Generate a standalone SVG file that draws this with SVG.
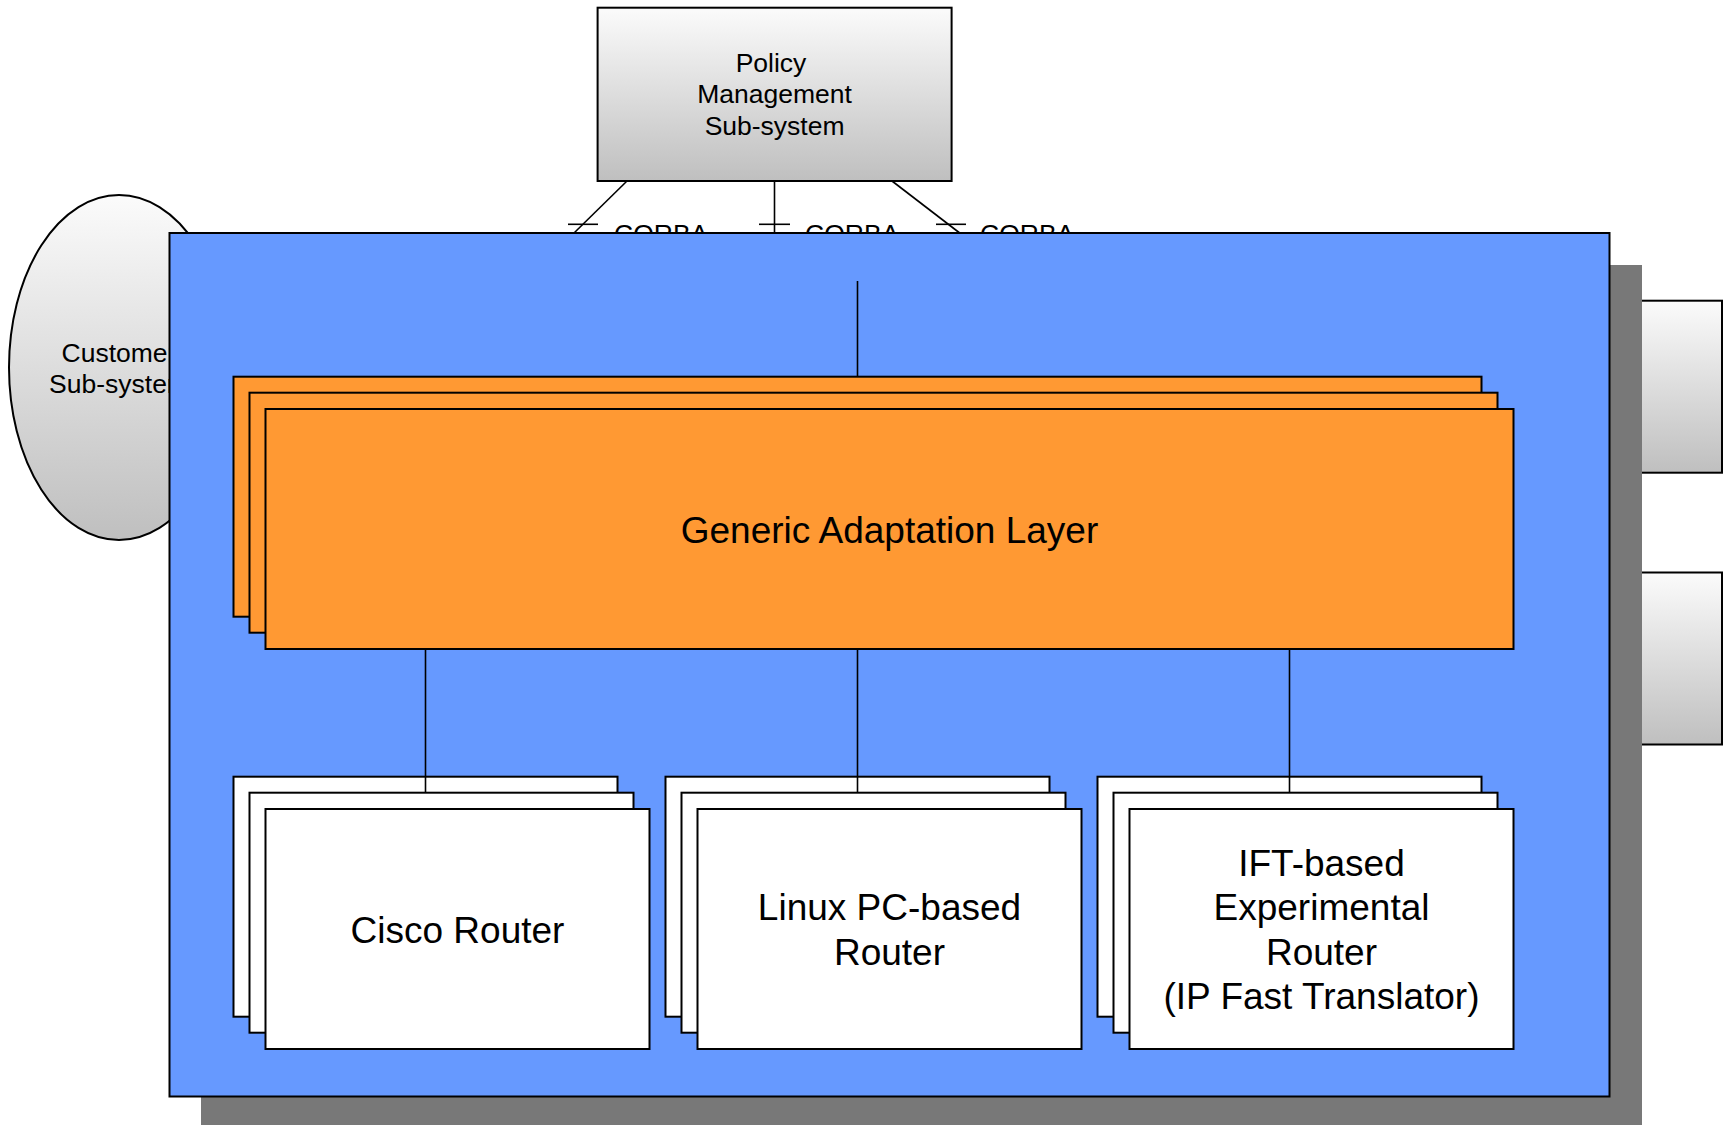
<svg xmlns="http://www.w3.org/2000/svg" width="1727" height="1125" viewBox="0 0 1727 1125">
<defs>
<linearGradient id="grayGrad" x1="0" y1="0" x2="0" y2="1">
<stop offset="0" stop-color="#fbfbfb"/>
<stop offset="1" stop-color="#bfbfbf"/>
</linearGradient>
<style>
.sys{fill:url(#grayGrad);stroke:#000;stroke-width:2}
.t{font-family:"Liberation Sans",Arial,sans-serif;fill:#000;text-anchor:middle}
.ts{font-size:26.5px}
.tl{font-size:37px}
.orange{fill:#ff9933;stroke:#000;stroke-width:2}
.router{fill:#fff;stroke:#000;stroke-width:2}
.conn{stroke:#000;stroke-width:1.6;fill:none}
</style>
</defs>
<rect width="1727" height="1125" fill="#fff"/>

<g id="customer-subsystem">
<ellipse class="sys" cx="119" cy="367.5" rx="110" ry="172.5"/>
<text class="t ts" x="119" y="361.7">Customer</text>
<text class="t ts" x="119" y="393.3">Sub-system</text>
</g>

<g id="right-box-1"><rect class="sys" x="1368" y="300.7" width="354" height="172"/></g>
<g id="right-box-2"><rect class="sys" x="1368" y="572.5" width="354" height="172"/></g>

<g id="policy-management">
<rect class="sys" x="597.6" y="7.7" width="354" height="173.3"/>
<text class="t ts" x="771" y="71.7">Policy</text>
<text class="t ts" x="774.6" y="103.4">Management</text>
<text class="t ts" x="774.6" y="135.1">Sub-system</text>
</g>

<g id="connectors-corba">
<line class="conn" x1="627" y1="181" x2="573" y2="234"/>
<line class="conn" x1="568" y1="224.3" x2="598" y2="224.3"/>
<line class="conn" x1="774.5" y1="181" x2="774.5" y2="234"/>
<line class="conn" x1="759" y1="224.3" x2="790" y2="224.3"/>
<line class="conn" x1="892" y1="181" x2="961" y2="234"/>
<line class="conn" x1="936" y1="224.3" x2="966" y2="224.3"/>
<text class="t ts" x="614" y="242.5" text-anchor="start" style="text-anchor:start">CORBA</text>
<text class="t ts" x="805" y="242.5" style="text-anchor:start">CORBA</text>
<text class="t ts" x="980" y="242.5" style="text-anchor:start">CORBA</text>
</g>

<g id="network-element">
<rect x="201" y="265" width="1441" height="870" fill="#787878"/>
<rect x="169.5" y="233" width="1440" height="863.5" fill="#6699ff" stroke="#000" stroke-width="2"/>
</g>

<g id="generic-adaptation-layer">
<rect class="orange" x="233.5" y="376.7" width="1248" height="240"/>
<rect class="orange" x="249.5" y="392.7" width="1248" height="240"/>
<rect class="orange" x="265.5" y="409" width="1248" height="240"/>
<text class="t tl" x="889.5" y="542.5">Generic Adaptation Layer</text>
</g>

<g id="cisco-router">
<rect class="router" x="233.5" y="776.7" width="384" height="240"/>
<rect class="router" x="249.5" y="792.7" width="384" height="240"/>
<rect class="router" x="265.5" y="809" width="384" height="240"/>
<text class="t tl" x="457.5" y="942.7">Cisco Router</text>
</g>

<g id="linux-router">
<rect class="router" x="665.5" y="776.7" width="384" height="240"/>
<rect class="router" x="681.5" y="792.7" width="384" height="240"/>
<rect class="router" x="697.5" y="809" width="384" height="240"/>
<text class="t tl" x="889.5" y="920">Linux PC-based</text>
<text class="t tl" x="889.5" y="964.5">Router</text>
</g>

<g id="ift-router">
<rect class="router" x="1097.5" y="776.7" width="384" height="240"/>
<rect class="router" x="1113.5" y="792.7" width="384" height="240"/>
<rect class="router" x="1129.5" y="809" width="384" height="240"/>
<text class="t tl" x="1321.5" y="875.7">IFT-based</text>
<text class="t tl" x="1321.5" y="920.2">Experimental</text>
<text class="t tl" x="1321.5" y="964.7">Router</text>
<text class="t tl" x="1321.5" y="1009.2">(IP Fast Translator)</text>
</g>

<g id="connectors-inner">
<line class="conn" x1="857.5" y1="281" x2="857.5" y2="376.7"/>
<line class="conn" x1="425.5" y1="649" x2="425.5" y2="792.7"/>
<line class="conn" x1="857.5" y1="649" x2="857.5" y2="792.7"/>
<line class="conn" x1="1289.5" y1="649" x2="1289.5" y2="792.7"/>
</g>
</svg>
